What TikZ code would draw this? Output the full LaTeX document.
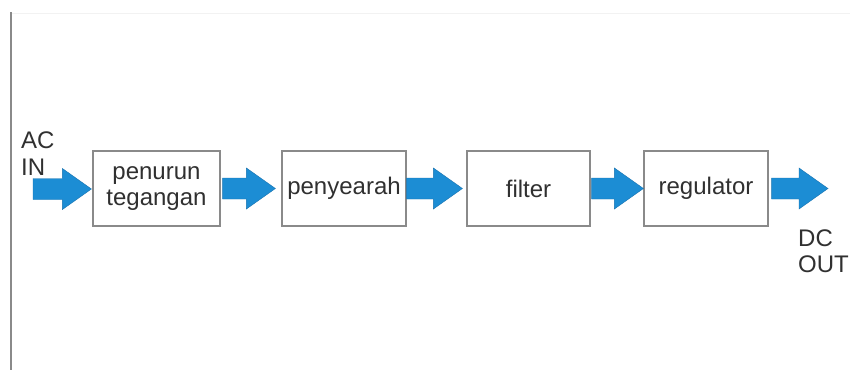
\documentclass[tikz,border=0pt]{standalone}
\usepackage{fontspec}
\setmainfont{Liberation Sans}
\usetikzlibrary{calc}
\definecolor{arrblue}{HTML}{1C8DD4}
\definecolor{arredge}{HTML}{1873B0}
\definecolor{boxedge}{HTML}{8A8A8A}
\definecolor{txt}{HTML}{303030}
\definecolor{faint}{HTML}{F2F2F2}
\begin{document}
\begin{tikzpicture}[x=1pt,y=-1pt,
  blockbox/.style={draw=boxedge,line width=1.2pt,fill=white,minimum width=#1,minimum height=75pt,
    inner sep=0pt,align=center,text=txt,font=\fontsize{24}{26}\selectfont},
  lbl/.style={inner sep=0pt,align=left,anchor=north west,text=txt,font=\fontsize{24}{26.5}\selectfont},
  blk/.style={fill=arrblue,draw=arredge,line width=0.4pt,to path={
    let \p1=(\tikztostart), \p2=(\tikztotarget) in
    (\x1,\y1+10.5) -- (\x2-29,\y1+10.5) -- (\x2-29,\y1+20.5) -- (\x2,\y1)
    -- (\x2-29,\y1-20.5) -- (\x2-29,\y1-10.5) -- (\x1,\y1-10.5) -- cycle}}]
\useasboundingbox (0,0) rectangle (850,370);
\fill[white] (0,0) rectangle (850,370);
% faint top line and left border line
\coordinate (tl) at (11,13);
\coordinate (tr) at (850,13);
\draw[faint,line width=1pt] (tl) -- (tr);
\coordinate (lt) at (11,12);
\coordinate (lb) at (11,370);
\draw[boxedge,line width=1.5pt] (lt) -- (lb);
% boxes
\node[blockbox=127pt] (b1) at (156.5,188.5) {penurun\\tegangan};
\node[blockbox=124pt] (b2) at (344,188.5) {penyearah};
\node[blockbox=123pt] (b3) at (528.5,188.5) {filter};
\node[blockbox=124pt] (b4) at (706,188.5) {regulator};
% labels
\node[lbl] (acin) at (21,132) {AC\\IN};
\node[lbl] (dcout) at (798,229.5) {DC\\OUT};
% arrows
\coordinate (in) at (33,189);
\coordinate (out) at (828,188.5);
\path[blk] (in) to ($(b1.west)+(-1,0)$);
\path[blk] ($(b1.east)+(2,0)$) to ($(b2.west)+(-6,0)$);
\path[blk] ($(b2.east)+(0,0)$) to ($(b3.west)+(-4,0)$);
\path[blk] ($(b3.east)+(1,0)$) to ($(b4.west)+(0,0)$);
\path[blk] ($(b4.east)+(3,0)$) to (out);
\end{tikzpicture}
\end{document}
